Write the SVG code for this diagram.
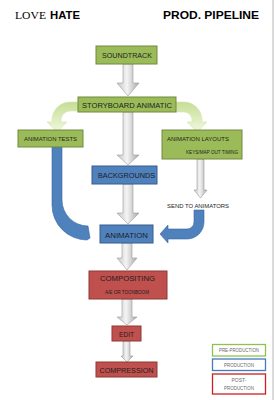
<svg xmlns="http://www.w3.org/2000/svg" width="275" height="400" viewBox="0 0 275 400">
<defs>
<linearGradient id="gray" x1="0" y1="0" x2="1" y2="0">
<stop offset="0" stop-color="#c4c4c4"/>
<stop offset="0.45" stop-color="#f4f4f4"/>
<stop offset="1" stop-color="#a9a9a9"/>
</linearGradient>
<linearGradient id="lgreen" x1="0" y1="0" x2="0" y2="1">
<stop offset="0" stop-color="#c6de94"/>
<stop offset="1" stop-color="#f1f8e0"/>
</linearGradient>
<style>
.bg{fill:#ffffff}
.g{fill:#9bbb59;stroke:#71893f;stroke-width:1}
.b{fill:#4f81bd;stroke:#385d8a;stroke-width:1}
.r{fill:#c0504d;stroke:#8c3836;stroke-width:1}
.ga{fill:url(#gray);stroke:#9a9a9a;stroke-width:0.6}
.la{fill:url(#lgreen);stroke:#d3e6b0;stroke-width:0.6}
.ba{fill:#4f81bd;stroke:#3b64a0;stroke-width:0.6}
.t{font-family:"Liberation Sans",Arial,sans-serif;fill:#1e1e1e;text-anchor:middle}
.lg{font-family:"Liberation Sans",Arial,sans-serif;fill:#6a6a6a;text-anchor:middle;font-size:5px}
.lb{fill:#ffffff;stroke-width:1.3}
</style>
</defs>
<rect class="bg" x="0" y="0" width="275" height="400"/>
<line x1="273" y1="0" x2="273" y2="400" stroke="#cfcfcf" stroke-width="1.5"/>

<g id="title">
<text x="15" y="19" font-family="Liberation Serif,serif" font-size="11" fill="#000" textLength="31" lengthAdjust="spacingAndGlyphs">LOVE</text>
<text x="50" y="19" font-family="Liberation Sans,Arial,sans-serif" font-weight="bold" font-size="10" fill="#000" textLength="30" lengthAdjust="spacingAndGlyphs">HATE</text>
<text x="163" y="19" font-family="Liberation Sans,Arial,sans-serif" font-weight="bold" font-size="10.5" fill="#000" textLength="96" lengthAdjust="spacingAndGlyphs">PROD. PIPELINE</text>
</g>

<g id="connectors">
<path class="ga" d="M123,64 L133,64 L133,83 L139,83 L128,96 L117,83 L123,83 Z"/>
<path class="ga" d="M123,112 L133,112 L133,155 L139,155 L128,165 L117,155 L123,155 Z"/>
<path class="ga" d="M123,184 L133,184 L133,213 L139,213 L128,224 L117,213 L123,213 Z"/>
<path class="ga" d="M122,243 L132,243 L132,258 L137,258 L127,270 L117,258 L122,258 Z"/>
<path class="ga" d="M122,299 L132,299 L132,317 L137,317 L127,325 L117,317 L122,317 Z"/>
<path class="ga" d="M123,341 L130,341 L130,356 L133,356 L127,362 L121,356 L123,356 Z"/>
<path class="ga" d="M197,159 L204,159 L204,190 L207,190 L200.5,198 L194,190 L197,190 Z"/>
<path class="la" d="M78,102 L70,102 A18,18 0 0 0 52,120 L52,122 L47,122 L57,132 L67,122 L61,122 L61,120 A9,9 0 0 1 70,111 L78,111 Z"/>
<path class="la" d="M176,102 L184,102 A18,18 0 0 1 202,120 L202,122 L207,122 L197,132 L187,122 L192,122 L192,120 A8,8 0 0 0 184,112 L176,112 Z"/>
<path class="ba" d="M52,147 L52,205 A35,35 0 0 0 87,240 L90,238 L88,226 A26,26 0 0 1 62,200 L62,147 Z"/>
<path class="ba" d="M204,210 L204,222 A17,17 0 0 1 187,239 L168,239 L168,243 L160,234 L168,225 L168,229 L187,229 A7,7 0 0 0 194,222 L194,210 Z"/>
</g>

<g id="soundtrack">
<rect class="g" x="96" y="46" width="61" height="18"/>
<text class="t" x="127" y="58" font-size="7.5" textLength="50" lengthAdjust="spacingAndGlyphs">SOUNDTRACK</text>
</g>
<g id="storyboard">
<rect class="g" x="78" y="97" width="98" height="15"/>
<text class="t" x="127" y="108" font-size="7.5" textLength="90" lengthAdjust="spacingAndGlyphs">STORYBOARD ANIMATIC</text>
</g>
<g id="animation-tests">
<rect class="g" x="18" y="130" width="65" height="17"/>
<text class="t" x="50.5" y="141" font-size="6" textLength="53" lengthAdjust="spacingAndGlyphs">ANIMATION TESTS</text>
</g>
<g id="animation-layouts">
<rect class="g" x="162" y="130" width="80" height="29"/>
<text class="t" x="198" y="141" font-size="6" textLength="62" lengthAdjust="spacingAndGlyphs">ANIMATION LAYOUTS</text>
<text class="t" x="212" y="154" font-size="4.5" textLength="52" lengthAdjust="spacingAndGlyphs">KEYS/MAP OUT TIMING</text>
</g>
<g id="backgrounds">
<rect class="b" x="92" y="166" width="65" height="18"/>
<text class="t" x="126.5" y="178" font-size="7.5" textLength="57" lengthAdjust="spacingAndGlyphs">BACKGROUNDS</text>
</g>
<g id="send-to-animators">
<text class="t" x="198" y="208" font-size="5.5" textLength="62" lengthAdjust="spacingAndGlyphs">SEND TO ANIMATORS</text>
</g>
<g id="animation">
<rect class="b" x="100" y="225" width="53" height="18"/>
<text class="t" x="126.5" y="238" font-size="7.5" textLength="43" lengthAdjust="spacingAndGlyphs">ANIMATION</text>
</g>
<g id="compositing">
<rect class="r" x="89" y="271" width="78" height="28"/>
<text class="t" x="127.5" y="281" font-size="7.5" textLength="55" lengthAdjust="spacingAndGlyphs">COMPOSITING</text>
<text class="t" x="127" y="294" font-size="4.5" textLength="44" lengthAdjust="spacingAndGlyphs">A/E OR TOONBOOM</text>
</g>
<g id="edit">
<rect class="r" x="112" y="326" width="29" height="15"/>
<text class="t" x="126.5" y="337" font-size="7.5" textLength="15" lengthAdjust="spacingAndGlyphs">EDIT</text>
</g>
<g id="compression">
<rect class="r" x="96" y="362" width="61" height="15"/>
<text class="t" x="126.5" y="373" font-size="7.5" textLength="54" lengthAdjust="spacingAndGlyphs">COMPRESSION</text>
</g>

<g id="legend-pre">
<rect class="lb" x="212.5" y="344.5" width="53" height="11.5" stroke="#92c050"/>
<text class="lg" x="239" y="352" textLength="40" lengthAdjust="spacingAndGlyphs">PRE-PRODUCTION</text>
</g>
<g id="legend-prod">
<rect class="lb" x="212.5" y="359" width="53" height="11.5" stroke="#3f7cc0"/>
<text class="lg" x="239" y="367" textLength="30" lengthAdjust="spacingAndGlyphs">PRODUCTION</text>
</g>
<g id="legend-post">
<rect class="lb" x="212.5" y="374" width="53" height="20" stroke="#cc1f1f"/>
<text class="lg" x="239" y="382">POST-</text>
<text class="lg" x="239" y="390" textLength="30" lengthAdjust="spacingAndGlyphs">PRODUCTION</text>
</g>
</svg>
